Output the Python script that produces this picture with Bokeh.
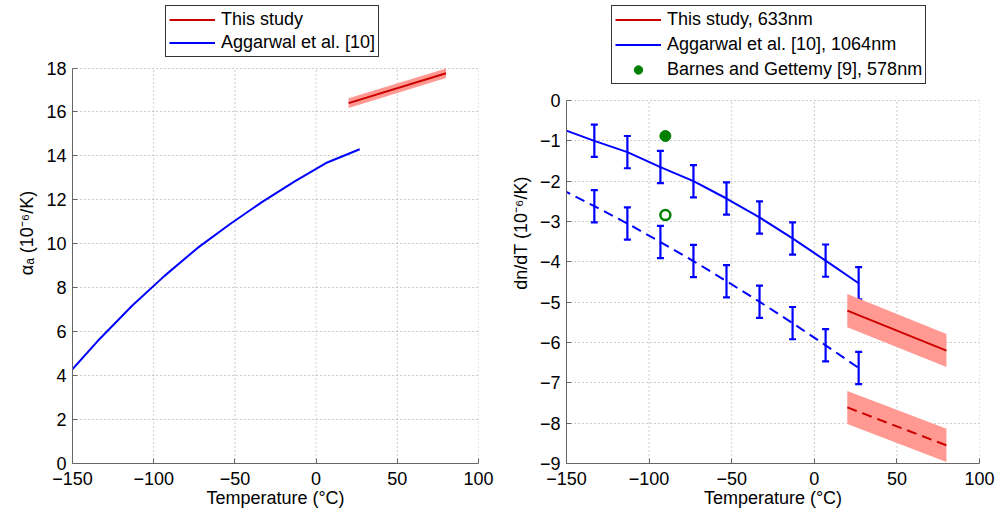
import numpy as np
from bokeh.plotting import figure
from bokeh.models import (Range1d, FixedTicker, ColumnDataSource, Whisker, TeeHead,
                          Legend, LegendItem)
from bokeh.layouts import row
from bokeh.embed import file_html
from bokeh.resources import INLINE

FONT = "Liberation Sans"
RED = "#CC0000"
BAND = "#FF9991"
BLUE = "#0000FF"
GREEN = "#008000"
AXIS = "#666666"
GRID = "#9a9a9a"

# ---------------- data ----------------
x_ticks = [-150, -100, -50, 0, 50, 100]
alpha_ticks = [0, 2, 4, 6, 8, 10, 12, 14, 16, 18]
dndt_ticks = [0, -1, -2, -3, -4, -5, -6, -7, -8, -9]

# left panel: alpha_a
aggarwal_T = [-153.15, -133.15, -113.15, -93.15, -73.15, -53.15, -33.15, -13.15, 6.85, 26.85]
aggarwal_alpha = [4.03, 5.68, 7.19, 8.55, 9.80, 10.89, 11.91, 12.84, 13.70, 14.30]
study_T = [20, 80]
study_alpha = [16.40, 17.76]
study_alpha_err = [0.22, 0.22]

# right panel: dn/dT
aggarwal_dndt_a = [-0.70, -1.00, -1.28, -1.65, -2.00, -2.43, -2.90, -3.42, -3.97, -4.53]
aggarwal_dndt_b = [-2.20, -2.62, -3.05, -3.51, -3.98, -4.48, -4.99, -5.52, -6.07, -6.63]
bar_T = aggarwal_T[1:]
bar_err = [0.40] * 9
study_dndt_a = [-5.21, -6.20]
study_dndt_b = [-7.61, -8.55]
study_dndt_err = [0.41, 0.41]
barnes_T = [-90.15]
barnes_dndt_a = [-0.88]
barnes_dndt_b = [-2.84]

# ---------------- layout (pixels) ----------------
H = 514
TOP = 2          # frame top
BOTTOM = 463     # frame bottom (page y)


def fmt(t):
    return ("\u2212" + str(abs(t))) if t < 0 else str(t)


def style(p, yticks, ybounds):
    p.outline_line_color = None
    for ax, ticks in ((p.xaxis[0], x_ticks), (p.yaxis[0], yticks)):
        ax.ticker = FixedTicker(ticks=ticks)
        ax.major_label_overrides = {t: fmt(t) for t in ticks}
        ax.axis_line_color = AXIS
        ax.axis_line_width = 1
        ax.major_tick_line_color = AXIS
        ax.major_tick_in = 5
        ax.major_tick_out = 0
        ax.minor_tick_line_color = None
        ax.major_label_text_font = FONT
        ax.major_label_text_font_size = "18px"
        ax.major_label_text_color = "black"
        ax.axis_label_text_font = FONT
        ax.axis_label_text_font_size = "18px"
        ax.axis_label_text_font_style = "normal"
        ax.axis_label_text_color = "black"
    p.yaxis.bounds = ybounds
    p.xaxis.major_label_standoff = 8
    p.xaxis.axis_label_standoff = 0
    p.yaxis.major_label_standoff = 6
    p.yaxis.axis_label_standoff = 6
    p.xgrid.visible = False
    g = p.ygrid[0]
    g.ticker = FixedTicker(ticks=yticks)
    g.grid_line_color = GRID
    g.grid_line_dash = "1 3"
    g.grid_line_width = 1
    # vertical dotted grid lines limited to the axis bounds
    n = len(x_ticks)
    p.segment(x0=x_ticks, x1=x_ticks, y0=[ybounds[0]] * n, y1=[ybounds[1]] * n,
              line_color=GRID, line_dash="1 3", line_width=1, level="underlay")


def make_legend(items, loc, spacing):
    return Legend(items=items, location=loc, orientation="vertical", margin=0,
                  padding=3, spacing=spacing, label_height=21, glyph_height=21,
                  glyph_width=46, label_standoff=6,
                  border_line_color="#333333", border_line_width=1, border_line_alpha=1,
                  background_fill_color="white", background_fill_alpha=1,
                  label_text_font=FONT, label_text_font_size="18px",
                  label_text_color="black")


# ---------------- left panel ----------------
# y = 18 sits at page y 67.5; extend the range so the frame reaches the legend area
y1_top = 18 * (BOTTOM - TOP) / (BOTTOM - 67.5)
p1 = figure(width=496, height=H, x_range=Range1d(-150, 100), y_range=Range1d(0, y1_top),
            output_backend="svg", toolbar_location=None,
            min_border_left=72, min_border_right=18, min_border_top=TOP,
            min_border_bottom=H - BOTTOM)
style(p1, alpha_ticks, (0, 18))
p1.xaxis.axis_label = "Temperature (°C)"
p1.yaxis.axis_label = "\u03b1\u2090 (10\u207b\u2076/K)"

p1.varea(x=study_T,
         y1=[v - e for v, e in zip(study_alpha, study_alpha_err)],
         y2=[v + e for v, e in zip(study_alpha, study_alpha_err)],
         fill_color=BAND, fill_alpha=1)
r1_red = p1.line(study_T, study_alpha, line_color=RED, line_width=2)
r1_blue = p1.line(aggarwal_T, aggarwal_alpha, line_color=BLUE, line_width=2)

p1.add_layout(make_legend([LegendItem(label="This study", renderers=[r1_red]),
                           LegendItem(label="Aggarwal et al. [10]", renderers=[r1_blue])],
                          (93, 406), 2))

# ---------------- right panel ----------------
# y = 0 sits at page y 100
y2_top = 9 * (BOTTOM - TOP) / (BOTTOM - 100) - 9
p2 = figure(width=499, height=H, x_range=Range1d(-150, 100), y_range=Range1d(-9, y2_top),
            output_backend="svg", toolbar_location=None,
            min_border_left=70, min_border_right=16, min_border_top=TOP,
            min_border_bottom=H - BOTTOM)
style(p2, dndt_ticks, (-9, 0))
p2.xaxis.axis_label = "Temperature (°C)"
p2.yaxis.axis_label = "dn/dT (10\u207b\u2076/K)"

for vals in (study_dndt_a, study_dndt_b):
    p2.varea(x=study_T,
             y1=[v - e for v, e in zip(vals, study_dndt_err)],
             y2=[v + e for v, e in zip(vals, study_dndt_err)],
             fill_color=BAND, fill_alpha=1)
r2_red = p2.line(study_T, study_dndt_a, line_color=RED, line_width=2)
p2.line(study_T, study_dndt_b, line_color=RED, line_width=2, line_dash="10 6")

r2_blue = p2.line(aggarwal_T, aggarwal_dndt_a, line_color=BLUE, line_width=2)
p2.line(aggarwal_T, aggarwal_dndt_b, line_color=BLUE, line_width=2, line_dash="10 6")

for vals in (aggarwal_dndt_a[1:], aggarwal_dndt_b[1:]):
    src = ColumnDataSource(dict(T=bar_T,
                                up=[v + e for v, e in zip(vals, bar_err)],
                                lo=[v - e for v, e in zip(vals, bar_err)]))
    p2.add_layout(Whisker(source=src, base="T", upper="up", lower="lo", dimension="height",
                          line_color=BLUE, line_width=2.2,
                          upper_head=TeeHead(size=7, line_color=BLUE, line_width=2.2),
                          lower_head=TeeHead(size=7, line_color=BLUE, line_width=2.2)))

r2_green = p2.scatter(barnes_T, barnes_dndt_a, marker="circle", size=11,
                      fill_color=GREEN, line_color=GREEN)
p2.scatter(barnes_T, barnes_dndt_b, marker="circle", size=10,
           fill_color=None, line_color=GREEN, line_width=2.5)

p2.add_layout(make_legend([LegendItem(label="This study, 633nm", renderers=[r2_red]),
                           LegendItem(label="Aggarwal et al. [10], 1064nm", renderers=[r2_blue]),
                           LegendItem(label="Barnes and Gettemy [9], 578nm", renderers=[r2_green])],
                          (45, 379), 4))

layout = row(p1, p2)
open("out.html", "w").write(file_html(layout, INLINE))
